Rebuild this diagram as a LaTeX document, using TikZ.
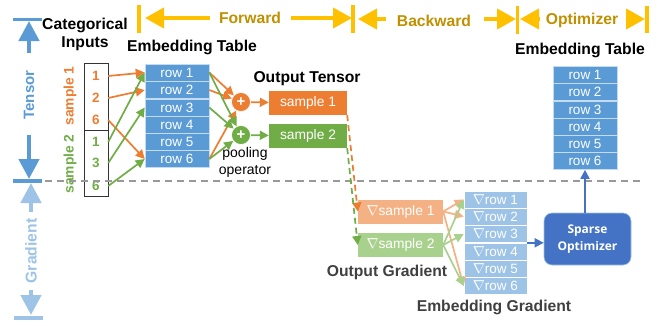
\documentclass[tikz,border=0pt]{standalone}
\usepackage{fontspec}
\setmainfont{Liberation Sans}
\newfontfamily\optfont{Open Sans}
\usepackage{amssymb}
\usepackage{amsmath}
\usetikzlibrary{arrows.meta}
\definecolor{cBlue}{HTML}{5B9BD5}
\definecolor{cLightBlue}{HTML}{9DC3E6}
\definecolor{cDarkBlue}{HTML}{4472C4}
\definecolor{cOrange}{HTML}{ED7D31}
\definecolor{cLightOrange}{HTML}{F4B183}
\definecolor{cGreen}{HTML}{70AD47}
\definecolor{cLightGreen}{HTML}{A9D18E}
\definecolor{cGold}{HTML}{FFC000}
\definecolor{cGoldText}{HTML}{BF9000}
\definecolor{cDark}{HTML}{404040}

\begin{document}
\begin{tikzpicture}[x=1pt,y=-1pt,
  font=\fontsize{13.5}{15}\selectfont,
  title/.style={font=\fontsize{15.7}{18}\selectfont\bfseries},
  phase/.style={font=\fontsize{15.7}{18}\selectfont\bfseries,text=cGoldText},
  row/.style={draw=cLightBlue!60,line width=.6pt,fill=cBlue,text=white,minimum width=64pt,minimum height=17pt,inner sep=0pt},
  gradrow/.style={draw=white,line width=.6pt,fill=cLightBlue,text=white,minimum width=63pt,minimum height=17pt,inner sep=0pt},
  outbox/.style={minimum width=78pt,minimum height=24pt,inner sep=0pt,text=white,font=\fontsize{13.8}{15}\selectfont},
  num/.style={minimum width=24pt,minimum height=20pt,inner sep=0pt,font=\fontsize{13.5}{15}\selectfont\bfseries},
  pool/.style={circle,draw=white,line width=.6pt,minimum size=19pt,inner sep=0pt,text=white,font=\fontsize{15}{15}\selectfont\bfseries},
  goldbar/.style={draw=cGold,line width=3.5pt},
  goldarrow/.style={draw=cGold,line width=4pt,-{Triangle[length=19pt,width=20pt,fill=cGold]}},
  bigarrow/.style={line width=4.5pt,-{Triangle[length=20pt,width=20pt]}},
  edge/.style={line width=1.7pt,-{Triangle[length=9pt,width=9pt]}}]
\useasboundingbox (0,0) rectangle (659,325);

%Phase Coordinates
\coordinate (Bar1Top) at (139,5);
\coordinate (Bar1Bot) at (139,33);
\coordinate (Bar2Top) at (353,5);
\coordinate (Bar2Bot) at (353,33);
\coordinate (Bar3Top) at (517.5,6);
\coordinate (Bar3Bot) at (517.5,34);
\coordinate (Bar4Top) at (647,6);
\coordinate (Bar4Bot) at (647,33);
\coordinate (Fwd1) at (210,18);
\coordinate (Fwd1Tip) at (145,18);
\coordinate (Fwd2) at (291,18);
\coordinate (Fwd2Tip) at (352,18);
\coordinate (Back1) at (386,19);
\coordinate (Back1Tip) at (358,19);
\coordinate (Back2) at (484,19);
\coordinate (Back2Tip) at (516,19);
\coordinate (Opt1) at (540,19);
\coordinate (Opt1Tip) at (520,19);
\coordinate (Opt2) at (626,19);
\coordinate (Opt2Tip) at (645,19);

%Side Coordinates
\coordinate (TenTopL) at (13,19.5);
\coordinate (TenTopR) at (42,19.5);
\coordinate (TenMidL) at (13,181);
\coordinate (TenMidR) at (42,181);
\coordinate (GradBotL) at (14,318);
\coordinate (GradBotR) at (43,318);
\coordinate (Ten1) at (29,53);
\coordinate (Ten1Tip) at (29,21);
\coordinate (Ten2) at (29,135);
\coordinate (Ten2Tip) at (29,179);
\coordinate (Grad1) at (31,212);
\coordinate (Grad1Tip) at (31,183);
\coordinate (Grad2) at (31,290);
\coordinate (Grad2Tip) at (31,315);
\coordinate (SplitL) at (45,181);
\coordinate (SplitR) at (643,181);

%Node Coordinates
\node at (96,96.5) [draw=black!80,line width=.8pt,minimum width=24pt,minimum height=67pt,inner sep=0pt] (Input1) {};
\node at (96,163) [draw=black!80,line width=.8pt,minimum width=24pt,minimum height=66pt,inner sep=0pt] (Input2) {};
\node at (96,76) [num,text=cOrange] (Num1) {1};
\node at (96,98) [num,text=cOrange] (Num2) {2};
\node at (96,120) [num,text=cOrange] (Num3) {6};
\node at (96,142) [num,text=cGreen] (Num4) {1};
\node at (96,163) [num,text=cGreen] (Num5) {3};
\node at (96,186) [num,text=cGreen] (Num6) {6};

\node at (177,72.5) [row] (Row1) {row 1};
\node at (177,90) [row] (Row2) {row 2};
\node at (177,107.5) [row] (Row3) {row 3};
\node at (177,125) [row] (Row4) {row 4};
\node at (177,142) [row] (Row5) {row 5};
\node at (177,159) [row] (Row6) {row 6};

\node at (241,102) [pool,fill=cOrange] (Pool1) {+};
\node at (241,135) [pool,fill=cGreen] (Pool2) {+};
\node at (308,103) [outbox,fill=cOrange] (Sample1) {sample 1};
\node at (308,136) [outbox,fill=cGreen] (Sample2) {sample 2};

\node at (585,74.5) [row] (Top1) {row 1};
\node at (585,92) [row] (Top2) {row 2};
\node at (585,109.5) [row] (Top3) {row 3};
\node at (585,127) [row] (Top4) {row 4};
\node at (585,144) [row] (Top5) {row 5};
\node at (585,161) [row] (Top6) {row 6};

\node at (400.5,211.5) [outbox,minimum width=85pt,fill=cLightOrange] (GradSample1) {$\nabla$sample 1};
\node at (400.5,245) [outbox,minimum width=85pt,fill=cLightGreen] (GradSample2) {$\nabla$sample 2};

\node at (495.5,199.5) [gradrow] (GradRow1) {$\nabla$row 1};
\node at (495.5,216.5) [gradrow] (GradRow2) {$\nabla$row 2};
\node at (495.5,234) [gradrow] (GradRow3) {$\nabla$row 3};
\node at (495.5,252) [gradrow] (GradRow4) {$\nabla$row 4};
\node at (495.5,268.5) [gradrow] (GradRow5) {$\nabla$row 5};
\node at (495.5,286) [gradrow] (GradRow6) {$\nabla$row 6};

\node at (587.5,239) [draw=cLightBlue,line width=.6pt,fill=cDarkBlue,rounded corners=8pt,minimum width=87pt,minimum height=52pt,align=center,text=white,inner sep=0pt,font=\fontsize{12}{16.5}\selectfont\optfont\bfseries] (Optimizer) {Sparse\\Optimizer};

%Node Labels
\node at (85,34) [title,align=center] (InputsLabel) {Categorical\\Inputs};
\node at (192,47) [title] (TableLabel) {Embedding Table};
\node at (307,79) [title] (OutputLabel) {Output Tensor};
\node at (580,50) [title] (TopLabel) {Embedding Table};
\node at (387,272) [title,text=cDark] (OutGradLabel) {Output Gradient};
\node at (494,307) [title,text=cDark] (EmbGradLabel) {Embedding Gradient};
\node at (245,162.5) [align=center,font=\fontsize{14}{17}\selectfont] (PoolLabel) {pooling\\operator};
\node at (70,96) [rotate=90,text=cOrange,font=\fontsize{13.8}{15}\selectfont\bfseries] (Sample1Label) {sample 1};
\node at (70,164) [rotate=90,text=cGreen,font=\fontsize{13.8}{15}\selectfont\bfseries] (Sample2Label) {sample 2};
\node at (250,18) [phase] (ForwardLabel) {Forward};
\node at (434,21) [phase] (BackwardLabel) {Backward};
\node at (582,20) [phase] (OptimizerLabel) {Optimizer};
\node at (29,95) [rotate=90,text=cBlue,font=\fontsize{15}{17}\selectfont\bfseries] (TensorLabel) {Tensor};
\node at (31,251) [rotate=90,text=cLightBlue,font=\fontsize{15.7}{18}\selectfont\bfseries] (GradientLabel) {Gradient};

%Phase Arrows
\draw [goldbar] (Bar1Top) -- (Bar1Bot);
\draw [goldbar] (Bar2Top) -- (Bar2Bot);
\draw [goldbar] (Bar3Top) -- (Bar3Bot);
\draw [goldbar] (Bar4Top) -- (Bar4Bot);
\draw [goldarrow] (Fwd1) -- (Fwd1Tip);
\draw [goldarrow] (Fwd2) -- (Fwd2Tip);
\draw [goldarrow] (Back1) -- (Back1Tip);
\draw [goldarrow] (Back2) -- (Back2Tip);
\draw [goldarrow] (Opt1) -- (Opt1Tip);
\draw [goldarrow] (Opt2) -- (Opt2Tip);

%Side Arrows
\draw [cBlue,line width=3.5pt] (TenTopL) -- (TenTopR);
\draw [cBlue,line width=3.5pt] (TenMidL) -- (TenMidR);
\draw [cLightBlue,line width=3.5pt] (GradBotL) -- (GradBotR);
\draw [bigarrow,cBlue] (Ten1) -- (Ten1Tip);
\draw [bigarrow,cBlue] (Ten2) -- (Ten2Tip);
\draw [bigarrow,cLightBlue] (Grad1) -- (Grad1Tip);
\draw [bigarrow,cLightBlue] (Grad2) -- (Grad2Tip);
\draw [black!40,line width=1.5pt,dash pattern=on 7pt off 5pt] (SplitL) -- (SplitR);

%Connections
\draw [edge,cOrange] (Num1.east) -- (Row1.west);
\draw [edge,cOrange] (Num2.east) -- (Row2.west);
\draw [edge,cOrange] (Num3.east) -- (Row6.west);
\draw [edge,cGreen] (Num4.east) -- (Row1.west);
\draw [edge,cGreen] (Num5.east) -- (Row3.west);
\draw [edge,cGreen] (Num6.east) -- (Row6.west);

\draw [edge,cOrange] (Row1.east) -- (Pool1);
\draw [edge,cOrange] (Row2.east) -- (Pool1);
\draw [edge,cOrange] (Row6.east) -- (Pool1);
\draw [edge,cGreen] (Row1.east) -- (Pool2);
\draw [edge,cGreen] (Row3.east) -- (Pool2);
\draw [edge,cGreen] (Row6.east) -- (Pool2);
\draw [edge,cOrange] (Pool1) -- (Sample1);
\draw [edge,cGreen] (Pool2) -- (Sample2);

\draw [edge,cOrange,dash pattern=on 6pt off 4pt] (Sample1.south east) -- (GradSample1.west);
\draw [edge,cGreen,dash pattern=on 6pt off 4pt] (Sample2.south east) -- (GradSample2.west);

\draw [edge,cLightOrange] (GradSample1.east) -- (GradRow1.west);
\draw [edge,cLightOrange] (GradSample1.east) -- (GradRow2.west);
\draw [edge,cLightOrange] (GradSample1.east) -- (GradRow6.west);
\draw [edge,cLightGreen] (GradSample2.east) -- (GradRow1.west);
\draw [edge,cLightGreen] (GradSample2.east) -- (GradRow3.west);
\draw [edge,cLightGreen] (GradSample2.east) -- (GradRow6.west);

\draw [edge,cDarkBlue] (GradRow3.south east) -- (Optimizer.west |- GradRow3.south east);
\draw [edge,cDarkBlue] (Optimizer.north -| Top6.south) -- (Top6.south);
\end{tikzpicture}
\end{document}
